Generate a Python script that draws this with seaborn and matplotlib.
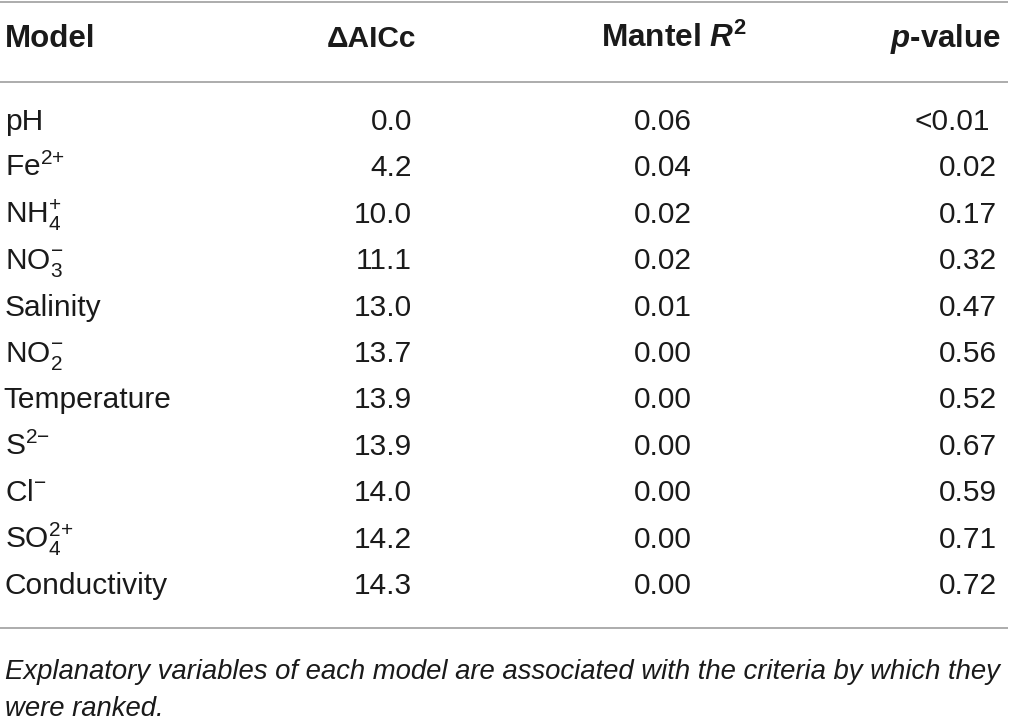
import matplotlib
matplotlib.use("Agg")
import matplotlib.pyplot as plt
import seaborn as sns

# table contents
models = ["pH", r"Fe$^{2{+}}$", r"NH$_4^{{+}}$", r"NO$_3^{{-}}$", "Salinity", r"NO$_2^{{-}}$",
          "Temperature", r"S$^{2{-}}$", r"Cl$^{{-}}$", r"SO$_4^{2{+}}$", "Conductivity"]
delta_aicc = [0.0, 4.2, 10.0, 11.1, 13.0, 13.7, 13.9, 13.9, 14.0, 14.2, 14.3]
mantel_r2 = [0.06, 0.04, 0.02, 0.02, 0.01, 0.00, 0.00, 0.00, 0.00, 0.00, 0.00]
p_values = ["<0.01", "0.02", "0.17", "0.32", "0.47", "0.56", "0.52", "0.67", "0.59", "0.71", "0.72"]
headers = ["Model", "\u0394AICc", r"Mantel $\mathbfit{R}^{\mathbf{2}}$", r"$\mathbfit{p}$-value"]
caption = ["Explanatory variables of each model are associated with the criteria by which they",
           "were ranked."]

sns.set_theme(style="white")
plt.rcParams["font.family"] = ["Liberation Sans", "DejaVu Sans"]
plt.rcParams["mathtext.fontset"] = "custom"
plt.rcParams["mathtext.rm"] = "Liberation Sans"
plt.rcParams["mathtext.it"] = "Liberation Sans:italic"
plt.rcParams["mathtext.bf"] = "Liberation Sans:bold"
plt.rcParams["mathtext.bfit"] = "Liberation Sans:italic:bold"
plt.rcParams["mathtext.default"] = "regular"

fig = plt.figure(figsize=(10.12, 7.23), dpi=100)
ax = fig.add_axes([0, 0, 1, 1])
ax.set_xlim(0, 1012)
ax.set_ylim(723, 0)
ax.axis("off")

txt = "#1a1a1a"
rule = "#a6a6a6"
fs = 21.5

# rules
for y in (2, 82, 628):
    ax.plot([0, 1008], [y, y], color=rule, lw=1.3, solid_capstyle="butt")

# header
hx = [5, 416, 746, 1001]
ha = ["left", "right", "right", "right"]
hfs = [22.5, 21.5, 22.8, 22.5]
for x, h, a, s in zip(hx, headers, ha, hfs):
    ax.text(x, 47, h, ha=a, va="baseline", fontsize=s, fontweight="bold", color=txt)

# rows
y0, step = 130, 46.4
for i in range(len(models)):
    yb = y0 + i * step
    ax.text(3 if models[i] == "Temperature" else 5, yb, models[i], ha="left", va="baseline",
            fontsize=fs, color=txt)
    ax.text(412, yb, f"{delta_aicc[i]:.1f}", ha="right", va="baseline", fontsize=fs, color=txt)
    ax.text(692, yb, f"{mantel_r2[i]:.2f}", ha="right", va="baseline", fontsize=fs, color=txt)
    px = 990 if p_values[i].startswith("<") else 997
    ax.text(px, yb, p_values[i], ha="right", va="baseline", fontsize=fs, color=txt)

# caption
for j, line in enumerate(caption):
    ax.text(5, 679 + j * 37, line, ha="left", va="baseline", fontsize=19.8,
            fontstyle="italic", color=txt)

fig.savefig("out.png", dpi=100)
